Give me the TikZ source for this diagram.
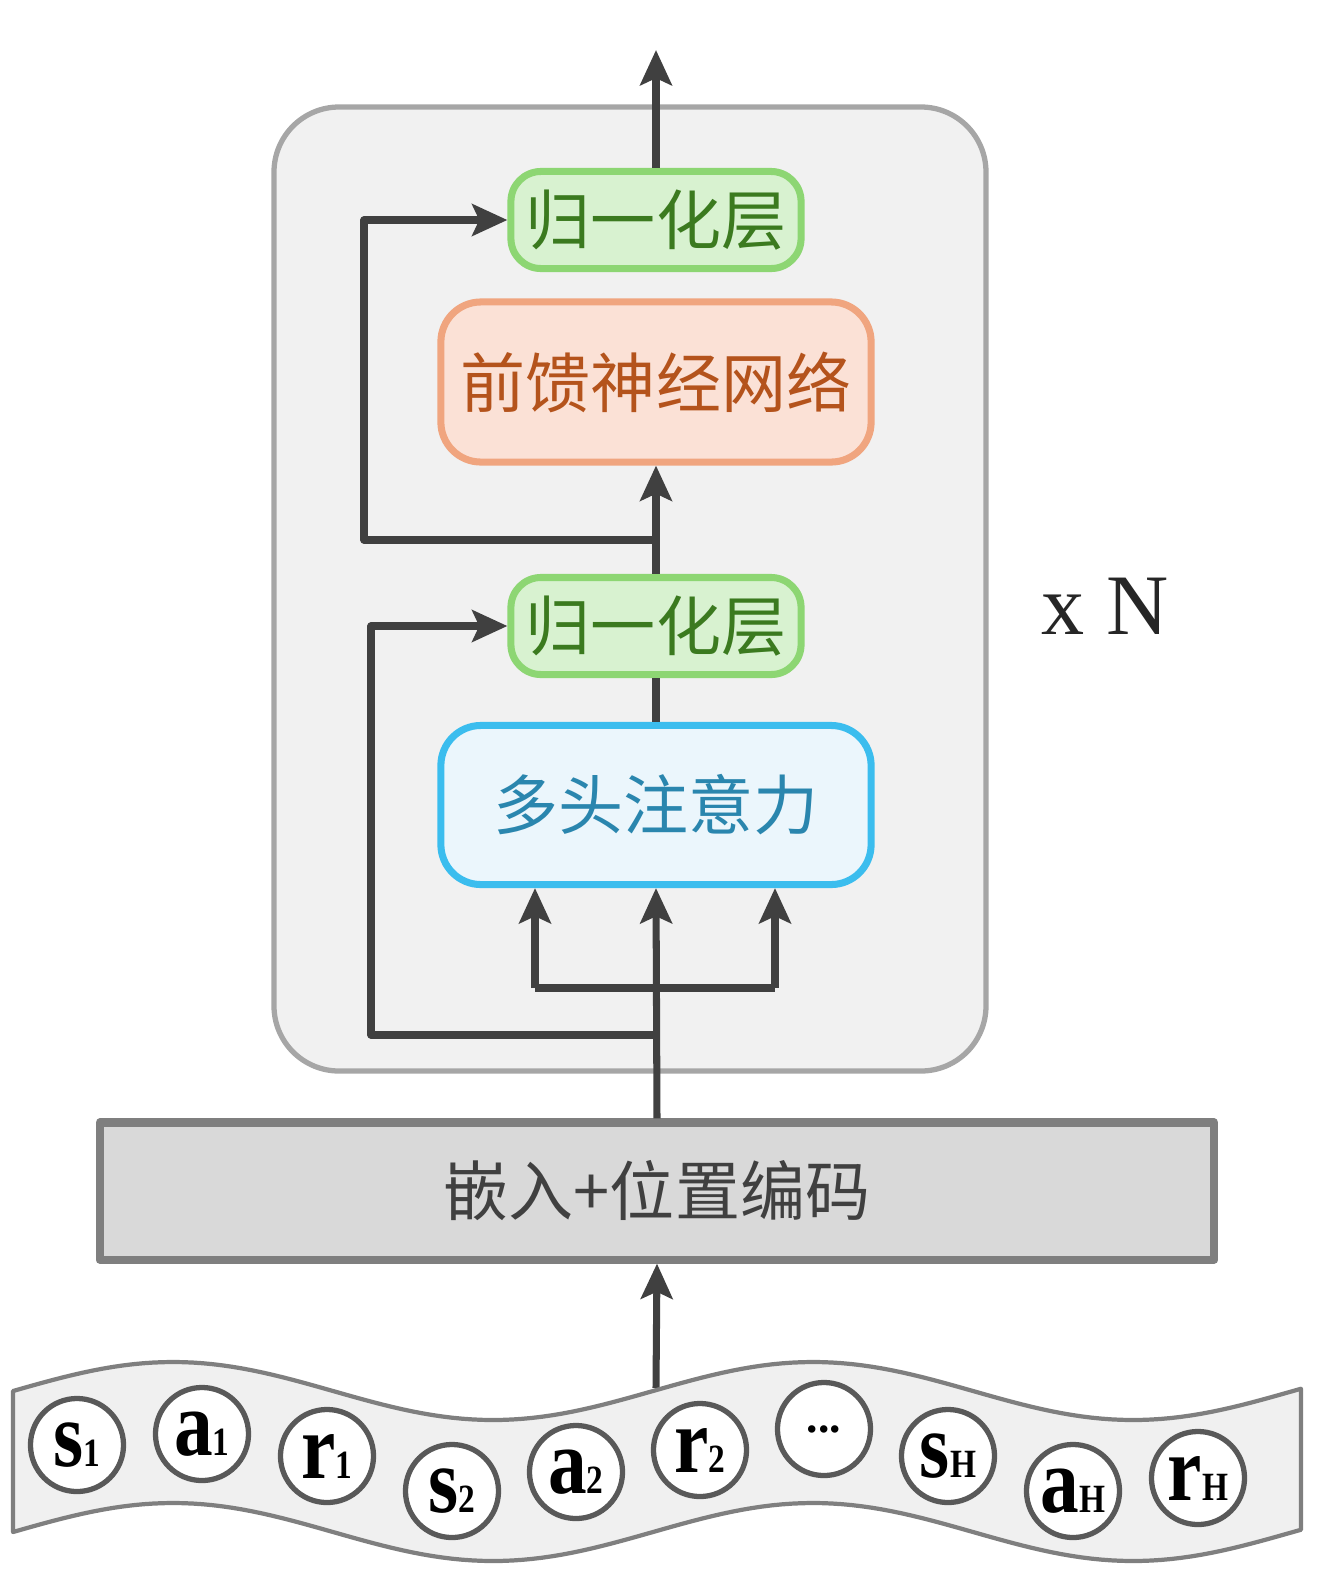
\documentclass[tikz,border=0pt]{standalone}
\usepackage{fontspec}
\setmainfont{Liberation Serif}
\newfontfamily\cjk{Noto Sans CJK SC}
\usetikzlibrary{arrows.meta}

\definecolor{linegray}{HTML}{404040}
\definecolor{blockfill}{HTML}{F1F1F1}
\definecolor{blockdraw}{HTML}{A6A6A6}
\definecolor{normfill}{HTML}{D8F2D0}
\definecolor{normdraw}{HTML}{8DD673}
\definecolor{normtext}{HTML}{3B7A1F}
\definecolor{ffnfill}{HTML}{FBE1D6}
\definecolor{ffndraw}{HTML}{F0A57F}
\definecolor{ffntext}{HTML}{B4531C}
\definecolor{attfill}{HTML}{EBF6FC}
\definecolor{attdraw}{HTML}{3BBDEE}
\definecolor{atttext}{HTML}{2A86AE}
\definecolor{embfill}{HTML}{D9D9D9}
\definecolor{embdraw}{HTML}{7F7F7F}
\definecolor{bandfill}{HTML}{F0F0F0}
\definecolor{tokdraw}{HTML}{595959}

\newcommand\tok[2]{\scalebox{1}[1.2]{\fontsize{22}{22}\selectfont\textbf{#1}{\fontsize{9.5}{9.5}\selectfont\textbf{#2}}}}

\begin{document}
\begin{tikzpicture}[x=0.01cm, y=-0.01cm, line join=round,
  >={Stealth[length=10pt,width=9pt,inset=2pt]},
  conn/.style={draw=linegray, line width=2pt},
  arr/.style={conn, ->},
  layer/.style={line width=2pt, align=center, inner sep=0pt,
    font=\cjk\fontsize{18.5}{20}\selectfont},
  normbox/.style={layer, draw=normdraw, fill=normfill, text=normtext,
    rounded corners=0.3cm, minimum width=2.9cm, minimum height=0.97cm},
  ffnbox/.style={layer, draw=ffndraw, fill=ffnfill, text=ffntext,
    rounded corners=0.4cm, minimum width=4.3cm, minimum height=1.6cm},
  attbox/.style={layer, draw=attdraw, fill=attfill, text=atttext,
    rounded corners=0.4cm, minimum width=4.3cm, minimum height=1.59cm},
  embbox/.style={layer, draw=embdraw, fill=embfill, text=linegray,
    line width=2.3pt, minimum width=11.14cm, minimum height=1.37cm},
  token/.style={circle, draw=tokdraw, line width=1.5pt, fill=white,
    minimum size=0.93cm, inner sep=0pt}]
\useasboundingbox (0,0) rectangle (1334,1584);

% repeated block
\draw[draw=blockdraw, fill=blockfill, line width=1.5pt, rounded corners=0.65cm]
  (274,107) rectangle (986,1071);
\node[font=\fontsize{24.5}{26}\selectfont, text=black!85] (times) at (1105,606) {x N};

\node[normbox] (norm2) at (656,220) {归一化层};
\node[ffnbox] (ffn) at (656,382) {前馈神经网络};
\node[normbox] (norm1) at (656,626) {归一化层};
\node[attbox] (att) at (656,805) {多头注意力};
\node[embbox] (emb) at (657,1191) {嵌入+位置编码};

% connectors
\coordinate (out) at (656,50);
\coordinate (res2) at (656,540);
\coordinate (split) at (656,988);
\coordinate (res1) at (656,1035);
\coordinate (q) at (535,988);
\coordinate (v) at (775,988);
\coordinate (wtop) at (656,1388);

\draw[arr] (norm2.north) -- (out);
\draw[arr] (norm1.north) -- (ffn.south);
\draw[conn] (att.north) -- (norm1.south);
\draw[arr] (emb.north) -- (att.south);
\draw[conn] (q) -- (v);
\draw[arr] (q) -- (q |- att.south);
\draw[arr] (v) -- (v |- att.south);
\draw[arr] (res1) -- ++(-285,0) |- (norm1.west);
\draw[arr] (res2) -- ++(-292,0) |- (norm2.west);
\draw[arr] (wtop) -- (emb.south);

% token band
\draw[draw=embdraw, fill=bandfill, line width=1.2pt]
  plot[domain=13:1301, samples=130] (\x,{1391-29*cos((\x-173)/640*360)})
  -- plot[domain=1301:13, samples=130] (\x,{1532-29*cos((\x-173)/640*360)})
  -- cycle;

\foreach \n/\px/\py/\lab in {s1/77/1445/{\tok{s}{1}}, a1/202/1434/{\tok{a}{1}},
  r1/327/1456/{\tok{r}{1}}, s2/452/1491/{\tok{s}{2}}, a2/576/1472/{\tok{a}{2}},
  r2/700/1450/{\tok{r}{2}}, sH/948/1456/{\tok{s}{H}}, aH/1073/1491/{\tok{a}{H}},
  rH/1198/1478/{\tok{r}{H}}}
  \node[token] (\n) at (\px,\py) {\lab};
\node[token, font=\fontsize{13}{13}\selectfont\bfseries] (dots) at (824,1429) {...};
\end{tikzpicture}
\end{document}
